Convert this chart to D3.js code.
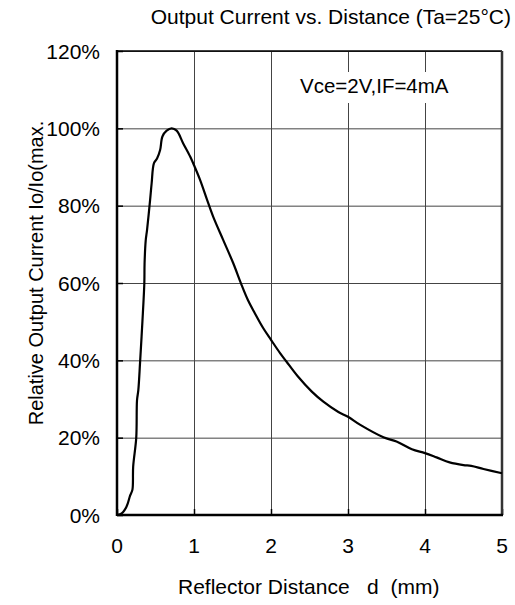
<!DOCTYPE html>
<html>
<head>
<meta charset="utf-8">
<script src="https://cdn.jsdelivr.net/npm/d3@7"></script>
<style>
    body { margin: 0; background: white; }
    text { font-family: "Liberation Sans", Arial, sans-serif; fill: black; }
</style>
</head>
<body>
<svg id="chart" width="515" height="605"></svg>
<script>
//distance in mm
const distance = [0, 0.04, 0.08, 0.12, 0.14, 0.17, 0.2, 0.21, 0.25, 0.26, 0.277, 0.3, 0.33, 0.355, 0.358, 0.373, 0.39,
    0.43, 0.45, 0.48, 0.52, 0.56, 0.59, 0.645, 0.71, 0.775, 0.86, 0.95, 1.01, 1.08, 1.17, 1.25, 1.38, 1.51,
    1.61, 1.70, 1.79, 1.9, 2.0, 2.12, 2.2, 2.35, 2.53, 2.68, 2.87, 3.0, 3.16, 3.46, 3.63, 3.83, 4.0, 4.15,
    4.32, 4.5, 4.6, 4.76, 5.0];
//relative output current (1 = 100%)
const relOutput = [0, 0.002, 0.008, 0.02, 0.03, 0.05, 0.065, 0.125, 0.20, 0.297, 0.323, 0.396, 0.50, 0.60, 0.65, 0.71, 0.737,
    0.815, 0.858, 0.91, 0.922, 0.944, 0.979, 0.994, 1.0, 0.994, 0.961, 0.927, 0.90, 0.866, 0.815, 0.771, 0.711, 0.651,
    0.599, 0.556, 0.522, 0.483, 0.453, 0.418, 0.397, 0.358, 0.319, 0.293, 0.267, 0.254, 0.233, 0.201, 0.19, 0.17, 0.16, 0.149,
    0.136, 0.129, 0.127, 0.119, 0.108];

const xTicks = [0, 1, 2, 3, 4, 5];
const yTicks = [0, 0.2, 0.4, 0.6, 0.8, 1.0, 1.2];

const title = "Output Current vs. Distance (Ta=25\u00B0C)";
const note = "Vce=2V,IF=4mA";
const xLabel = "Reflector Distance   d  (mm)";
const yLabel = "Relative Output Current Io/Io(max.";

const points = distance.map((d, i) => ({ d: d, v: relOutput[i] }));

//plot box (top/left clash with window globals so prefix them)
const plotLeft = 117, plotRight = 502, plotTop = 51, plotBottom = 515;

const svg = d3.select("#chart");

const x = d3.scaleLinear().domain([0, 5]).range([plotLeft, plotRight]);
const y = d3.scaleLinear().domain([0, 1.2]).range([plotBottom, plotTop]);

//grid lines
svg.append("g")
    .attr("transform", `translate(0,${plotBottom})`)
    .call(d3.axisBottom(x).tickValues(xTicks).tickSize(-(plotBottom - plotTop)).tickFormat(""))
    .call(g => g.select(".domain").remove())
    .selectAll("line").attr("stroke", "#444").attr("stroke-width", 1);

svg.append("g")
    .attr("transform", `translate(${plotLeft},0)`)
    .call(d3.axisLeft(y).tickValues(yTicks).tickSize(-(plotRight - plotLeft)).tickFormat(""))
    .call(g => g.select(".domain").remove())
    .selectAll("line").attr("stroke", "#444").attr("stroke-width", 1);

//white box behind the test condition note
svg.append("rect")
    .attr("x", 295).attr("y", 72)
    .attr("width", 165).attr("height", 31)
    .attr("fill", "white");

svg.append("text")
    .attr("x", 300).attr("y", 93)
    .attr("font-size", 20.5)
    .text(note);

//short inside ticks
svg.append("g")
    .attr("transform", `translate(${plotLeft},0)`)
    .call(d3.axisLeft(y).tickValues(yTicks).tickSize(-6).tickFormat(""))
    .call(g => g.select(".domain").remove())
    .selectAll("line").attr("stroke", "black").attr("stroke-width", 1.5);

svg.append("g")
    .attr("transform", `translate(0,${plotBottom})`)
    .call(d3.axisBottom(x).tickValues(xTicks).tickSize(-6).tickFormat(""))
    .call(g => g.select(".domain").remove())
    .selectAll("line").attr("stroke", "black").attr("stroke-width", 1.5);

//frame
svg.append("line").attr("x1", plotLeft).attr("x2", plotRight).attr("y1", plotTop).attr("y2", plotTop)
    .attr("stroke", "black").attr("stroke-width", 1.5);
svg.append("line").attr("x1", plotRight).attr("x2", plotRight).attr("y1", plotTop).attr("y2", plotBottom)
    .attr("stroke", "#333").attr("stroke-width", 2.5);
svg.append("line").attr("x1", plotLeft).attr("x2", plotRight + 1).attr("y1", plotBottom).attr("y2", plotBottom)
    .attr("stroke", "black").attr("stroke-width", 2.5);
svg.append("line").attr("x1", plotLeft).attr("x2", plotLeft).attr("y1", plotTop - 1).attr("y2", plotBottom + 1)
    .attr("stroke", "black").attr("stroke-width", 2.5);

//the curve
const line = d3.line()
    .x(p => x(p.d))
    .y(p => y(p.v))
    .curve(d3.curveCatmullRom.alpha(0.5));

svg.append("path")
    .datum(points)
    .attr("d", line)
    .attr("fill", "none")
    .attr("stroke", "black")
    .attr("stroke-width", 2.2)
    .attr("stroke-linejoin", "round");

//tick labels
svg.append("g")
    .selectAll("text")
    .data(xTicks)
    .enter().append("text")
    .attr("x", d => x(d))
    .attr("y", 553)
    .attr("text-anchor", "middle")
    .attr("font-size", 21)
    .text(d => d);

svg.append("g")
    .selectAll("text")
    .data(yTicks)
    .enter().append("text")
    .attr("x", 100)
    .attr("y", d => y(d) + 7.5)
    .attr("text-anchor", "end")
    .attr("font-size", 21)
    .text(d => Math.round(d * 100) + "%");

//titles
svg.append("text")
    .attr("x", 511).attr("y", 24)
    .attr("text-anchor", "end")
    .attr("font-size", 21)
    .text(title);

svg.append("text")
    .attr("x", 178).attr("y", 594)
    .attr("font-size", 21)
    .style("white-space", "pre")
    .text(xLabel);

svg.append("text")
    .attr("transform", "translate(43,273) rotate(-90)")
    .attr("text-anchor", "middle")
    .attr("font-size", 20)
    .text(yLabel);
</script>
</body>
</html>
